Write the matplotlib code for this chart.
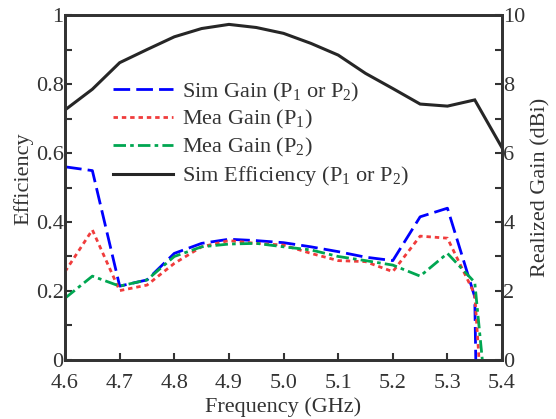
import matplotlib
matplotlib.use("Agg")
import matplotlib.pyplot as plt
import numpy as np

plt.rcParams['font.family'] = ['Liberation Serif', 'DejaVu Serif']
plt.rcParams['mathtext.fontset'] = 'custom'
plt.rcParams['mathtext.rm'] = 'Liberation Serif'
plt.rcParams['mathtext.it'] = 'Liberation Serif:italic'

# ---- data ----
freq_eff = [4.60, 4.65, 4.70, 4.75, 4.80, 4.85, 4.90, 4.95, 5.00, 5.05, 5.10,
            5.15, 5.20, 5.25, 5.30, 5.35, 5.40]
sim_eff = [0.725, 0.785, 0.862, 0.900, 0.937, 0.961, 0.973, 0.964, 0.947, 0.918,
           0.884, 0.831, 0.787, 0.742, 0.736, 0.754, 0.615]

freq_sim = [4.60, 4.65, 4.70, 4.75, 4.80, 4.85, 4.90, 4.95, 5.00, 5.05, 5.10,
            5.15, 5.20, 5.25, 5.30, 5.35, 5.355]
sim_gain = [5.60, 5.49, 2.14, 2.32, 3.09, 3.38, 3.50, 3.46, 3.40, 3.28, 3.14,
            2.98, 2.88, 4.15, 4.40, 1.83, -3.0]

freq_m1 = [4.60, 4.65, 4.70, 4.75, 4.80, 4.85, 4.90, 4.95, 5.00, 5.05, 5.10,
           5.15, 5.20, 5.25, 5.30, 5.35, 5.36]
mea_gain_p1 = [2.56, 3.77, 2.01, 2.17, 2.80, 3.28, 3.46, 3.38, 3.33, 3.09, 2.88,
               2.85, 2.56, 3.59, 3.53, 1.90, -0.5]

freq_m2 = [4.60, 4.65, 4.70, 4.75, 4.80, 4.85, 4.90, 4.95, 5.00, 5.05, 5.10,
           5.15, 5.20, 5.25, 5.30, 5.35, 5.37]
mea_gain_p2 = [1.79, 2.43, 2.14, 2.32, 3.00, 3.28, 3.36, 3.38, 3.28, 3.19, 3.00,
               2.88, 2.75, 2.43, 3.09, 2.25, -1.0]

xticks = [4.6, 4.7, 4.8, 4.9, 5.0, 5.1, 5.2, 5.3, 5.4]
labels = [r'Sim Gain (P$_1$ or P$_2$)', r'Mea Gain (P$_1$)',
          r'Mea Gain (P$_2$)', r'Sim Efficiency (P$_1$ or P$_2$)']

# ---- figure ----
fig = plt.figure(figsize=(5.56, 4.19), dpi=100)
ax = fig.add_axes([0.117, 0.141, 0.786, 0.823])
ax2 = ax.twinx()

spine_c = '#333333'
txt_c = '#333333'
fs = 16

l4, = ax.plot(freq_eff, sim_eff, color='#262626', lw=2.2, solid_joinstyle='miter')
l1, = ax2.plot(freq_sim, sim_gain, color='#0000FF', lw=2.0, dashes=(6, 2.2))
l2, = ax2.plot(freq_m1, mea_gain_p1, color='#F03C3C', lw=2.0, dashes=(1.6, 1.4))
l3, = ax2.plot(freq_m2, mea_gain_p2, color='#00A651', lw=2.0, dashes=(4.5, 1.5, 1.3, 1.5))

ax.set_xlim(4.6, 5.4)
ax.set_ylim(0, 1)
ax2.set_ylim(0, 10)

ax.set_xticks(xticks)
ax.set_xticklabels([f'{v:.1f}' for v in xticks])
ax.set_yticks(np.arange(0, 1.01, 0.1))
ax.set_yticklabels(['0', '', '0.2', '', '0.4', '', '0.6', '', '0.8', '', '1'])
ax2.set_yticks(np.arange(0, 11, 1))
ax2.set_yticklabels(['0', '', '2', '', '4', '', '6', '', '8', '', '10'])

for a in (ax, ax2):
    for s in a.spines.values():
        s.set_color(spine_c)
        s.set_linewidth(2.0)
    a.tick_params(direction='in', length=5, width=1.5, color=spine_c,
                  labelsize=fs, labelcolor=txt_c, pad=1)
ax.tick_params(axis='x', top=False, pad=10)

ax.set_xlabel('Frequency (GHz)', fontsize=fs, color=txt_c, labelpad=3)
ax.set_ylabel('Efficiency', fontsize=fs, color=txt_c)
ax.yaxis.set_label_coords(-0.072, 0.527)
ax2.set_ylabel('Realized Gain (dBi)', fontsize=fs, color=txt_c, labelpad=4)

leg = ax2.legend([l1, l2, l3, l4], labels, loc='upper left',
                 bbox_to_anchor=(0.09, 0.836), frameon=False, fontsize=fs,
                 handlelength=2.7, handletextpad=0.4, labelspacing=0.22,
                 borderaxespad=0)
for t in leg.get_texts():
    t.set_color(txt_c)

fig.savefig('out.png', dpi=100)
